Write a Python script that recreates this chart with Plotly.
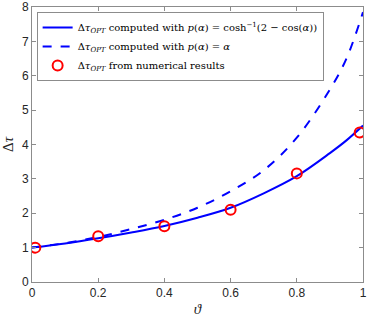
import plotly.graph_objects as go

# curve samples
theta = [0.0, 0.1, 0.2, 0.3, 0.4, 0.5, 0.6, 0.7, 0.8, 0.9, 0.95, 1.0]
dtau_cosh = [1.0, 1.12, 1.27, 1.44, 1.63, 1.87, 2.16, 2.58, 3.08, 3.75, 4.12, 4.55]
dtau_alpha = [1.0, 1.13, 1.31, 1.54, 1.81, 2.16, 2.64, 3.25, 4.2, 5.6, 6.5, 7.85]

# numerical results
theta_num = [0.01, 0.2, 0.4, 0.6, 0.8, 0.99]
dtau_num = [1.0, 1.33, 1.62, 2.1, 3.16, 4.35]

lab1 = "Δ<i>τ</i><sub><i>OPT</i></sub> computed with <i>p</i>(<i>α</i>) = cosh<sup>−1</sup>(2 − cos(<i>α</i>))"
lab2 = "Δ<i>τ</i><sub><i>OPT</i></sub> computed with <i>p</i>(<i>α</i>) = <i>α</i>"
lab3 = "Δ<i>τ</i><sub><i>OPT</i></sub> from numerical results"

fig = go.Figure()
fig.add_trace(go.Scatter(x=theta, y=dtau_cosh, mode="lines", name=lab1,
                         line=dict(color="#0000ff", width=2, shape="spline")))
fig.add_trace(go.Scatter(x=theta, y=dtau_alpha, mode="lines", name=lab2,
                         line=dict(color="#0000ff", width=2, dash="dash", shape="spline")))
fig.add_trace(go.Scatter(x=theta_num, y=dtau_num, mode="markers", name=lab3,
                         marker=dict(symbol="circle-open", size=10, color="#ff0000",
                                     line=dict(width=2, color="#ff0000"))))

axis_common = dict(showgrid=False, zeroline=False, showline=True, linecolor="#8c8c8c",
                   linewidth=1, mirror="ticks", ticks="inside", ticklen=4,
                   tickcolor="#8c8c8c",
                   tickfont=dict(family="Liberation Sans, Arial, sans-serif", size=12, color="#262626"))

fig.update_xaxes(range=[0, 1], tickvals=[0, 0.2, 0.4, 0.6, 0.8, 1],
                 ticktext=["0", "0.2", "0.4", "0.6", "0.8", "1"],
                 title=dict(text="<i>ϑ</i>", standoff=4,
                            font=dict(family="Liberation Serif, serif", size=15, color="#262626")),
                 **axis_common)
fig.update_yaxes(range=[0, 8], tickvals=list(range(9)),
                 title=dict(text="Δ<i>τ</i>", standoff=6,
                            font=dict(family="Liberation Serif, serif", size=15, color="#262626")),
                 **axis_common)

fig.update_layout(
    width=373, height=318,
    margin=dict(l=32, r=10, t=7, b=36, autoexpand=False),
    paper_bgcolor="white", plot_bgcolor="white",
    showlegend=True,
    legend=dict(x=0.014, y=0.982, xanchor="left", yanchor="top",
                bgcolor="white", bordercolor="#8c8c8c", borderwidth=1,
                font=dict(family="DejaVu Serif, serif", size=10, color="#000000"),
                tracegroupgap=0, itemwidth=30),
)

fig.write_html("out.html", config={"displayModeBar": False},
               post_script="document.body.style.margin='0';document.body.style.overflow='hidden';")
